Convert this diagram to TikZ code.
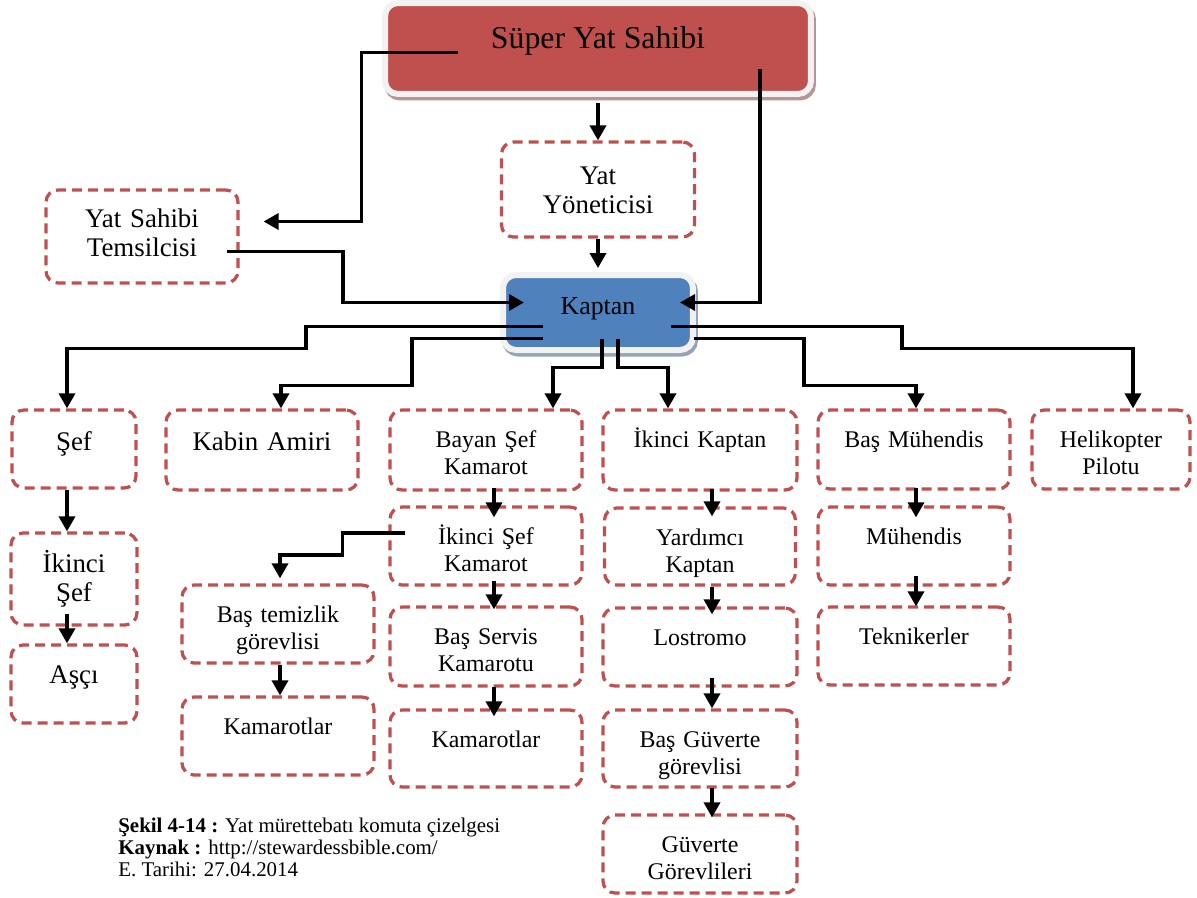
\documentclass[tikz,border=0pt]{standalone}
\usepackage{fontspec}
\setmainfont{Liberation Serif}
\usepackage{tikz}
\usetikzlibrary{arrows.meta}

\definecolor{kirmizi}{HTML}{C0504D}
\definecolor{mavi}{HTML}{4F81BD}
\definecolor{cerceve}{HTML}{F2F2F2}
\definecolor{golgek}{HTML}{BA9494}
\definecolor{golgem}{HTML}{94A3B8}

\newcommand{\anayazi}{\fontsize{18.1pt}{21pt}\selectfont}
\newcommand{\kaptanyazi}{\fontsize{14.7pt}{17pt}\selectfont}
\newcommand{\buyukyazi}{\fontsize{15.3pt}{17pt}\selectfont}
\newcommand{\kucukyazi}{\fontsize{13.6pt}{15.9pt}\selectfont}
\newcommand{\notyazi}{\fontsize{11.9pt}{12.5pt}\selectfont}

\begin{document}
\begin{tikzpicture}[x=0.02cm, y=-0.02cm,
    kutu/.style={draw=kirmizi, line width=0.065cm, dash pattern=on 0.2cm off 0.12cm,
        rounded corners=0.24cm, inner sep=0pt, text width=3.84cm, align=center,
        text height=0.74cm, text depth=0.82cm, font=\kucukyazi},
    buyuk/.style={font=\buyukyazi},
    ana/.style={draw=cerceve, line width=0.12cm, rounded corners=0.26cm, inner sep=0pt,
        preaction={fill=#1, draw=#1, line width=0.12cm,
            transform canvas={shift={(0.04cm,-0.07cm)}}}},
    ok/.style={line width=0.07cm, -{Triangle[length=0.3cm, width=0.32cm]}}]
    \useasboundingbox (0,0) rectangle (1197,897);

    % Ust kademe
    \node[ana=golgek, fill=kirmizi, minimum width=8.52cm, minimum height=1.82cm,
        font=\anayazi, text height=0.3cm, text depth=0.3cm] (sahip) at (598,48.5) {Süper Yat Sahibi};
    \node[kutu, buyuk, text width=3.86cm, text height=0.84cm, text depth=1.06cm] (yonetici) at (598,189.5) {Yat\\Yöneticisi};
    \node[kutu, buyuk, text depth=1.12cm] (temsilci) at (142,236.5) {Yat Sahibi\\Temsilcisi};
    \node[ana=golgem, fill=mavi, minimum width=3.8cm, minimum height=1.5cm,
        font=\kaptanyazi, text height=0.36cm, text depth=0.3cm] (kaptan) at (598,312.5) {Kaptan};

    % Kaptana bagli birimler
    \node[kutu, buyuk, text width=2.48cm, text height=0.8cm, text depth=0.76cm] (sef) at (74,449) {Şef};
    \node[kutu, buyuk, text height=0.8cm, text depth=0.8cm] (kabin) at (262,450) {Kabin Amiri};
    \node[kutu, text depth=0.86cm] (bayan) at (486,450) {Bayan Şef\\Kamarot};
    \node[kutu, text width=3.88cm, text depth=0.86cm] (ikkaptan) at (700,450) {İkinci Kaptan};
    \node[kutu, text depth=0.84cm] (basmuh) at (914,449.5) {Baş Mühendis};
    \node[kutu, text width=3.16cm, text depth=0.84cm] (heli) at (1111,449.5) {Helikopter\\Pilotu};

    % Alt kademeler
    \node[kutu, buyuk, text width=2.52cm, text height=0.78cm, text depth=1.06cm] (iksef) at (74,579) {İkinci\\Şef};
    \node[kutu, buyuk, text width=2.52cm, text height=0.76cm, text depth=0.8cm] (asci) at (74,684) {Aşçı};
    \node[kutu] (iksefkam) at (486,546) {İkinci Şef\\Kamarot};
    \node[kutu, text depth=0.84cm] (basservis) at (486,646.5) {Baş Servis\\Kamarotu};
    \node[kutu, text depth=0.8cm] (kamarot2) at (486,748.5) {Kamarotlar};
    \node[kutu] (bastemiz) at (278,624) {Baş temizlik\\görevlisi};
    \node[kutu] (kamarot1) at (278,736) {Kamarotlar};
    \node[kutu, text width=3.82cm, text depth=0.8cm] (yardimci) at (700,546.5) {Yardımcı\\Kaptan};
    \node[kutu, text width=3.88cm] (lostromo) at (700,647) {Lostromo};
    \node[kutu, text width=3.88cm, text depth=0.8cm] (basguv) at (700,748.5) {Baş Güverte\\görevlisi};
    \node[kutu, text width=3.88cm] (guvgor) at (700,854) {Güverte\\Görevlileri};
    \node[kutu] (muhendis) at (914,546) {Mühendis};
    \node[kutu] (teknik) at (914,646) {Teknikerler};

    % Baglantilar
    \draw[ok] ([shift={(-140,4)}]sahip.center) -| ([shift={(122,-15)}]temsilci.east) -- ([shift={(24,-15)}]temsilci.east);
    \draw[ok] ([shift={(0,6)}]sahip.south) -- (yonetici.north);
    \draw[ok] ([shift={(162,20)}]sahip.center) |- ([shift={(82,-10)}]kaptan.center);
    \draw[ok] (yonetici.south) -- ([shift={(0,-4)}]kaptan.north);
    \draw[ok] ([shift={(85,15)}]temsilci.center) -| ([shift={(-255,-10)}]kaptan.center) -- ([shift={(-74,-10)}]kaptan.center);

    \draw[ok] ([shift={(-55,14)}]kaptan.center) -| ++(-237,22) -| ([shift={(-7,0)}]sef.north);
    \draw[ok] ([shift={(-55,26)}]kaptan.center) -| ++(-131,47) -| ([shift={(19,0)}]kabin.north);
    \draw[ok] ([shift={(4,26)}]kaptan.center) |- ++(-49,29) -| ([shift={(67,0)}]bayan.north);
    \draw[ok] ([shift={(20,26)}]kaptan.center) |- ++(50,29) -| ([shift={(-32,0)}]ikkaptan.north);
    \draw[ok] ([shift={(96,26)}]kaptan.center) -| ++(110,47) -| ([shift={(2,0)}]basmuh.north);
    \draw[ok] ([shift={(73,14)}]kaptan.center) -| ++(231,22) -| ([shift={(22,0)}]heli.north);

    \draw[ok] ([shift={(-7,0)}]sef.south) -- ([shift={(-7,0)}]iksef.north);
    \draw[ok] ([shift={(-7,-13)}]iksef.south) -- ([shift={(-7,0)}]asci.north);
    \draw[ok] ([shift={(8,-4)}]bayan.south) -- ([shift={(8,12)}]iksefkam.north);
    \draw[ok] ([shift={(8,-6)}]iksefkam.south) -- ([shift={(8,4)}]basservis.north);
    \draw[ok] ([shift={(8,-1)}]basservis.south) -- ([shift={(8,8)}]kamarot2.north);
    \draw[ok] ([shift={(17,-13)}]iksefkam.west) -| ++(-63,22) -| ([shift={(2,-5)}]bastemiz.north);
    \draw[ok] ([shift={(2,0)}]bastemiz.south) -- ([shift={(2,0)}]kamarot1.north);
    \draw[ok] ([shift={(12,-3)}]ikkaptan.south) -- ([shift={(12,10)}]yardimci.north);
    \draw[ok] ([shift={(12,0)}]yardimci.south) -- ([shift={(12,8)}]lostromo.north);
    \draw[ok] ([shift={(12,-10)}]lostromo.south) -- ([shift={(12,0)}]basguv.north);
    \draw[ok] ([shift={(12,-1)}]basguv.south) -- ([shift={(12,4)}]guvgor.north);
    \draw[ok] ([shift={(2,-3)}]basmuh.south) -- ([shift={(2,12)}]muhendis.north);
    \draw[ok] ([shift={(2,-11)}]muhendis.south) -- ([shift={(2,1)}]teknik.north);

    % Kaynak notu
    \node[anchor=north west, align=left, inner sep=0pt, font=\notyazi] (kaynak) at (118,818)
        {\textbf{Şekil 4-14 :} Yat mürettebatı komuta çizelgesi\\
         \textbf{Kaynak :} http://stewardessbible.com/\\
         E. Tarihi: 27.04.2014};
\end{tikzpicture}
\end{document}
